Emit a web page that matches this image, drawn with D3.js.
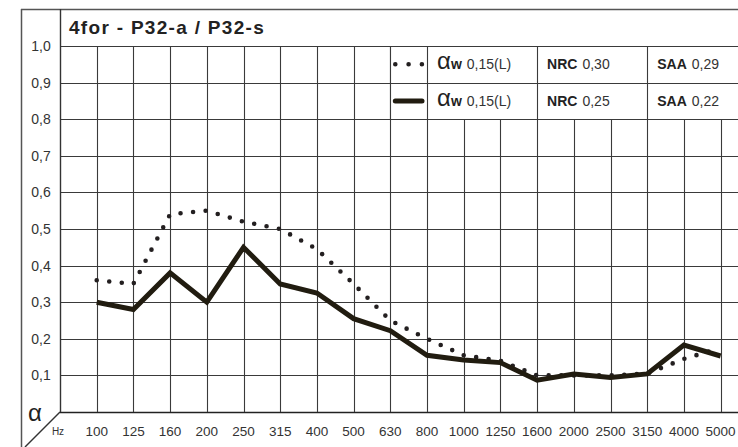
<!DOCTYPE html>
<html>
<head>
<meta charset="utf-8">
<script src="https://cdn.jsdelivr.net/npm/d3@7"></script>
<style>
  body { margin: 0; background: #fff; }
  svg { display: block; }
  text { font-family: "Liberation Sans", Arial, sans-serif; fill: #333; }
</style>
</head>
<body>
<svg id="chart" width="738" height="447"></svg>
<script>
// data
var freqs = ["100", "125", "160", "200", "250", "315", "400", "500", "630", "800",
             "1000", "1250", "1600", "2000", "2500", "3150", "4000", "5000"];
var dotted = [0.36, 0.35, 0.54, 0.55, 0.52, 0.50, 0.445, 0.35, 0.25, 0.20,
              0.155, 0.14, 0.10, 0.10, 0.10, 0.105, 0.145, 0.175];
var solid = [0.30, 0.28, 0.38, 0.30, 0.45, 0.35, 0.325, 0.255, 0.222, 0.155,
             0.142, 0.135, 0.087, 0.104, 0.094, 0.104, 0.183, 0.153];
var yTicks = [0.1, 0.2, 0.3, 0.4, 0.5, 0.6, 0.7, 0.8, 0.9, 1.0];
var legendRows = [
  { aw: "0,15(L)", nrc: "0,30", saa: "0,29" },
  { aw: "0,15(L)", nrc: "0,25", saa: "0,22" }
];
var title = "4for - P32-a / P32-s";

var W = 738, H = 447;
var plotLeft = 60, plotTop = 46, plotBottom = 412, step = 36.7;

var svg = d3.select("#chart");

// index -1 is the left axis, 0..17 the frequencies
var x = d3.scaleLinear().domain([-1, 18]).range([plotLeft, plotLeft + 19 * step]);
var y = d3.scaleLinear().domain([0, 1]).range([plotBottom, plotTop]);

var fmt = function(v) { return d3.format(".1f")(v).replace(".", ","); };

// outer frame
svg.append("line").attr("x1", 21.5).attr("x2", 21.5).attr("y1", 9).attr("y2", H)
  .attr("stroke", "#555").attr("stroke-width", 1.5);
svg.append("line").attr("x1", 21).attr("x2", W).attr("y1", 9.5).attr("y2", 9.5)
  .attr("stroke", "#555").attr("stroke-width", 1.5);

// horizontal grid
svg.append("g").selectAll("line")
  .data([0].concat(yTicks))
  .enter().append("line")
    .attr("x1", plotLeft).attr("x2", W)
    .attr("y1", function(d) { return Math.round(y(d)) + 0.5; })
    .attr("y2", function(d) { return Math.round(y(d)) + 0.5; })
    .attr("stroke", function(d) { return d === 0 ? "#222" : "#3a3a3a"; })
    .attr("stroke-width", function(d) { return d === 0 ? 1.6 : 1.1; });

// vertical grid
svg.append("g").selectAll("line")
  .data(d3.range(0, 18))
  .enter().append("line")
    .attr("x1", function(d) { return Math.round(x(d)) + 0.5; })
    .attr("x2", function(d) { return Math.round(x(d)) + 0.5; })
    .attr("y1", y(1)).attr("y2", y(0))
    .attr("stroke", "#3a3a3a").attr("stroke-width", 1.1);

// left axis line running up through the title row
svg.append("line").attr("x1", plotLeft + 0.5).attr("x2", plotLeft + 0.5).attr("y1", 9).attr("y2", plotBottom)
  .attr("stroke", "#333").attr("stroke-width", 1.4);

// diagonal corner
svg.append("line").attr("x1", plotLeft).attr("y1", plotBottom)
  .attr("x2", plotLeft - (H - plotBottom)).attr("y2", H)
  .attr("stroke", "#333").attr("stroke-width", 1.4);

// title
svg.append("text").attr("x", 69).attr("y", 34).text(title)
  .style("font-size", "19px").style("font-weight", "bold")
  .style("letter-spacing", "1.3px").style("fill", "#222");

// y labels
svg.append("g").selectAll("text")
  .data(yTicks)
  .enter().append("text")
    .attr("x", 41).attr("y", function(d) { return y(d); })
    .attr("dy", "0.35em")
    .attr("text-anchor", "middle")
    .style("font-size", "14px")
    .text(fmt);

// x labels
svg.append("g").selectAll("text")
  .data(freqs)
  .enter().append("text")
    .attr("x", function(d, i) { return x(i); })
    .attr("y", 436)
    .attr("text-anchor", "middle")
    .style("font-size", "13.5px")
    .text(function(d) { return d; });

svg.append("text").attr("x", 58).attr("y", 435).attr("text-anchor", "middle")
  .style("font-size", "10px").text("Hz");
svg.append("text").attr("x", 35).attr("y", 421).attr("text-anchor", "middle")
  .style("font-size", "24px").style("fill", "#222").text("α");

// curves
var line = d3.line()
  .x(function(d, i) { return x(i); })
  .y(function(d) { return y(d); });

svg.append("path").datum(dotted)
  .attr("d", line)
  .attr("fill", "none")
  .attr("stroke", "#231f20")
  .attr("stroke-width", 4.6)
  .attr("stroke-linecap", "round")
  .attr("stroke-dasharray", "0,12.6");

svg.append("path").datum(solid)
  .attr("d", line)
  .attr("fill", "none")
  .attr("stroke", "#211c10")
  .attr("stroke-width", 5)
  .attr("stroke-linejoin", "miter");

// legend box
var lg = svg.append("g");
lg.append("rect")
  .attr("x", Math.round(x(8)) + 0.5).attr("y", Math.round(y(1)) + 1)
  .attr("width", W - Math.round(x(8))).attr("height", Math.round(y(0.8)) - Math.round(y(1)) - 1)
  .attr("fill", "#fff");
[0.9, 0.8].forEach(function(v) {
  lg.append("line").attr("x1", x(8)).attr("x2", W)
    .attr("y1", Math.round(y(v)) + 0.5).attr("y2", Math.round(y(v)) + 0.5)
    .attr("stroke", "#3a3a3a").attr("stroke-width", 1.1);
});
[8, 9, 12, 15].forEach(function(c) {
  lg.append("line")
    .attr("x1", Math.round(x(c)) + 0.5).attr("x2", Math.round(x(c)) + 0.5)
    .attr("y1", y(1)).attr("y2", y(0.8))
    .attr("stroke", "#3a3a3a").attr("stroke-width", 1.1);
});

// legend symbols
var r0 = (y(1) + y(0.9)) / 2, r1 = (y(0.9) + y(0.8)) / 2;
lg.append("line").attr("x1", x(8) + 5).attr("x2", x(9) - 5).attr("y1", r0).attr("y2", r0)
  .attr("stroke", "#231f20").attr("stroke-width", 4.6)
  .attr("stroke-linecap", "round").attr("stroke-dasharray", "0,13.3");
lg.append("line").attr("x1", x(8) + 5).attr("x2", x(9) - 5).attr("y1", r1).attr("y2", r1)
  .attr("stroke", "#211c10").attr("stroke-width", 5).attr("stroke-linecap", "round");

legendRows.forEach(function(row, i) {
  var cy = (i === 0 ? r0 : r1) + 5;
  var t = lg.append("text").attr("x", x(9) + 10).attr("y", cy).style("font-size", "14px");
  t.append("tspan").style("font-size", "24px").style("fill", "#222").text("α");
  t.append("tspan").style("font-weight", "bold").style("fill", "#222").text("w");
  t.append("tspan").attr("dx", 5).text(row.aw);

  var n = lg.append("text").attr("x", x(12) + 10).attr("y", cy).style("font-size", "14px");
  n.append("tspan").style("font-weight", "bold").style("fill", "#222").text("NRC");
  n.append("tspan").attr("dx", 5).text(row.nrc);

  var s = lg.append("text").attr("x", x(15) + 10).attr("y", cy).style("font-size", "14px");
  s.append("tspan").style("font-weight", "bold").style("fill", "#222").text("SAA");
  s.append("tspan").attr("dx", 5).text(row.saa);
});
</script>
</body>
</html>
